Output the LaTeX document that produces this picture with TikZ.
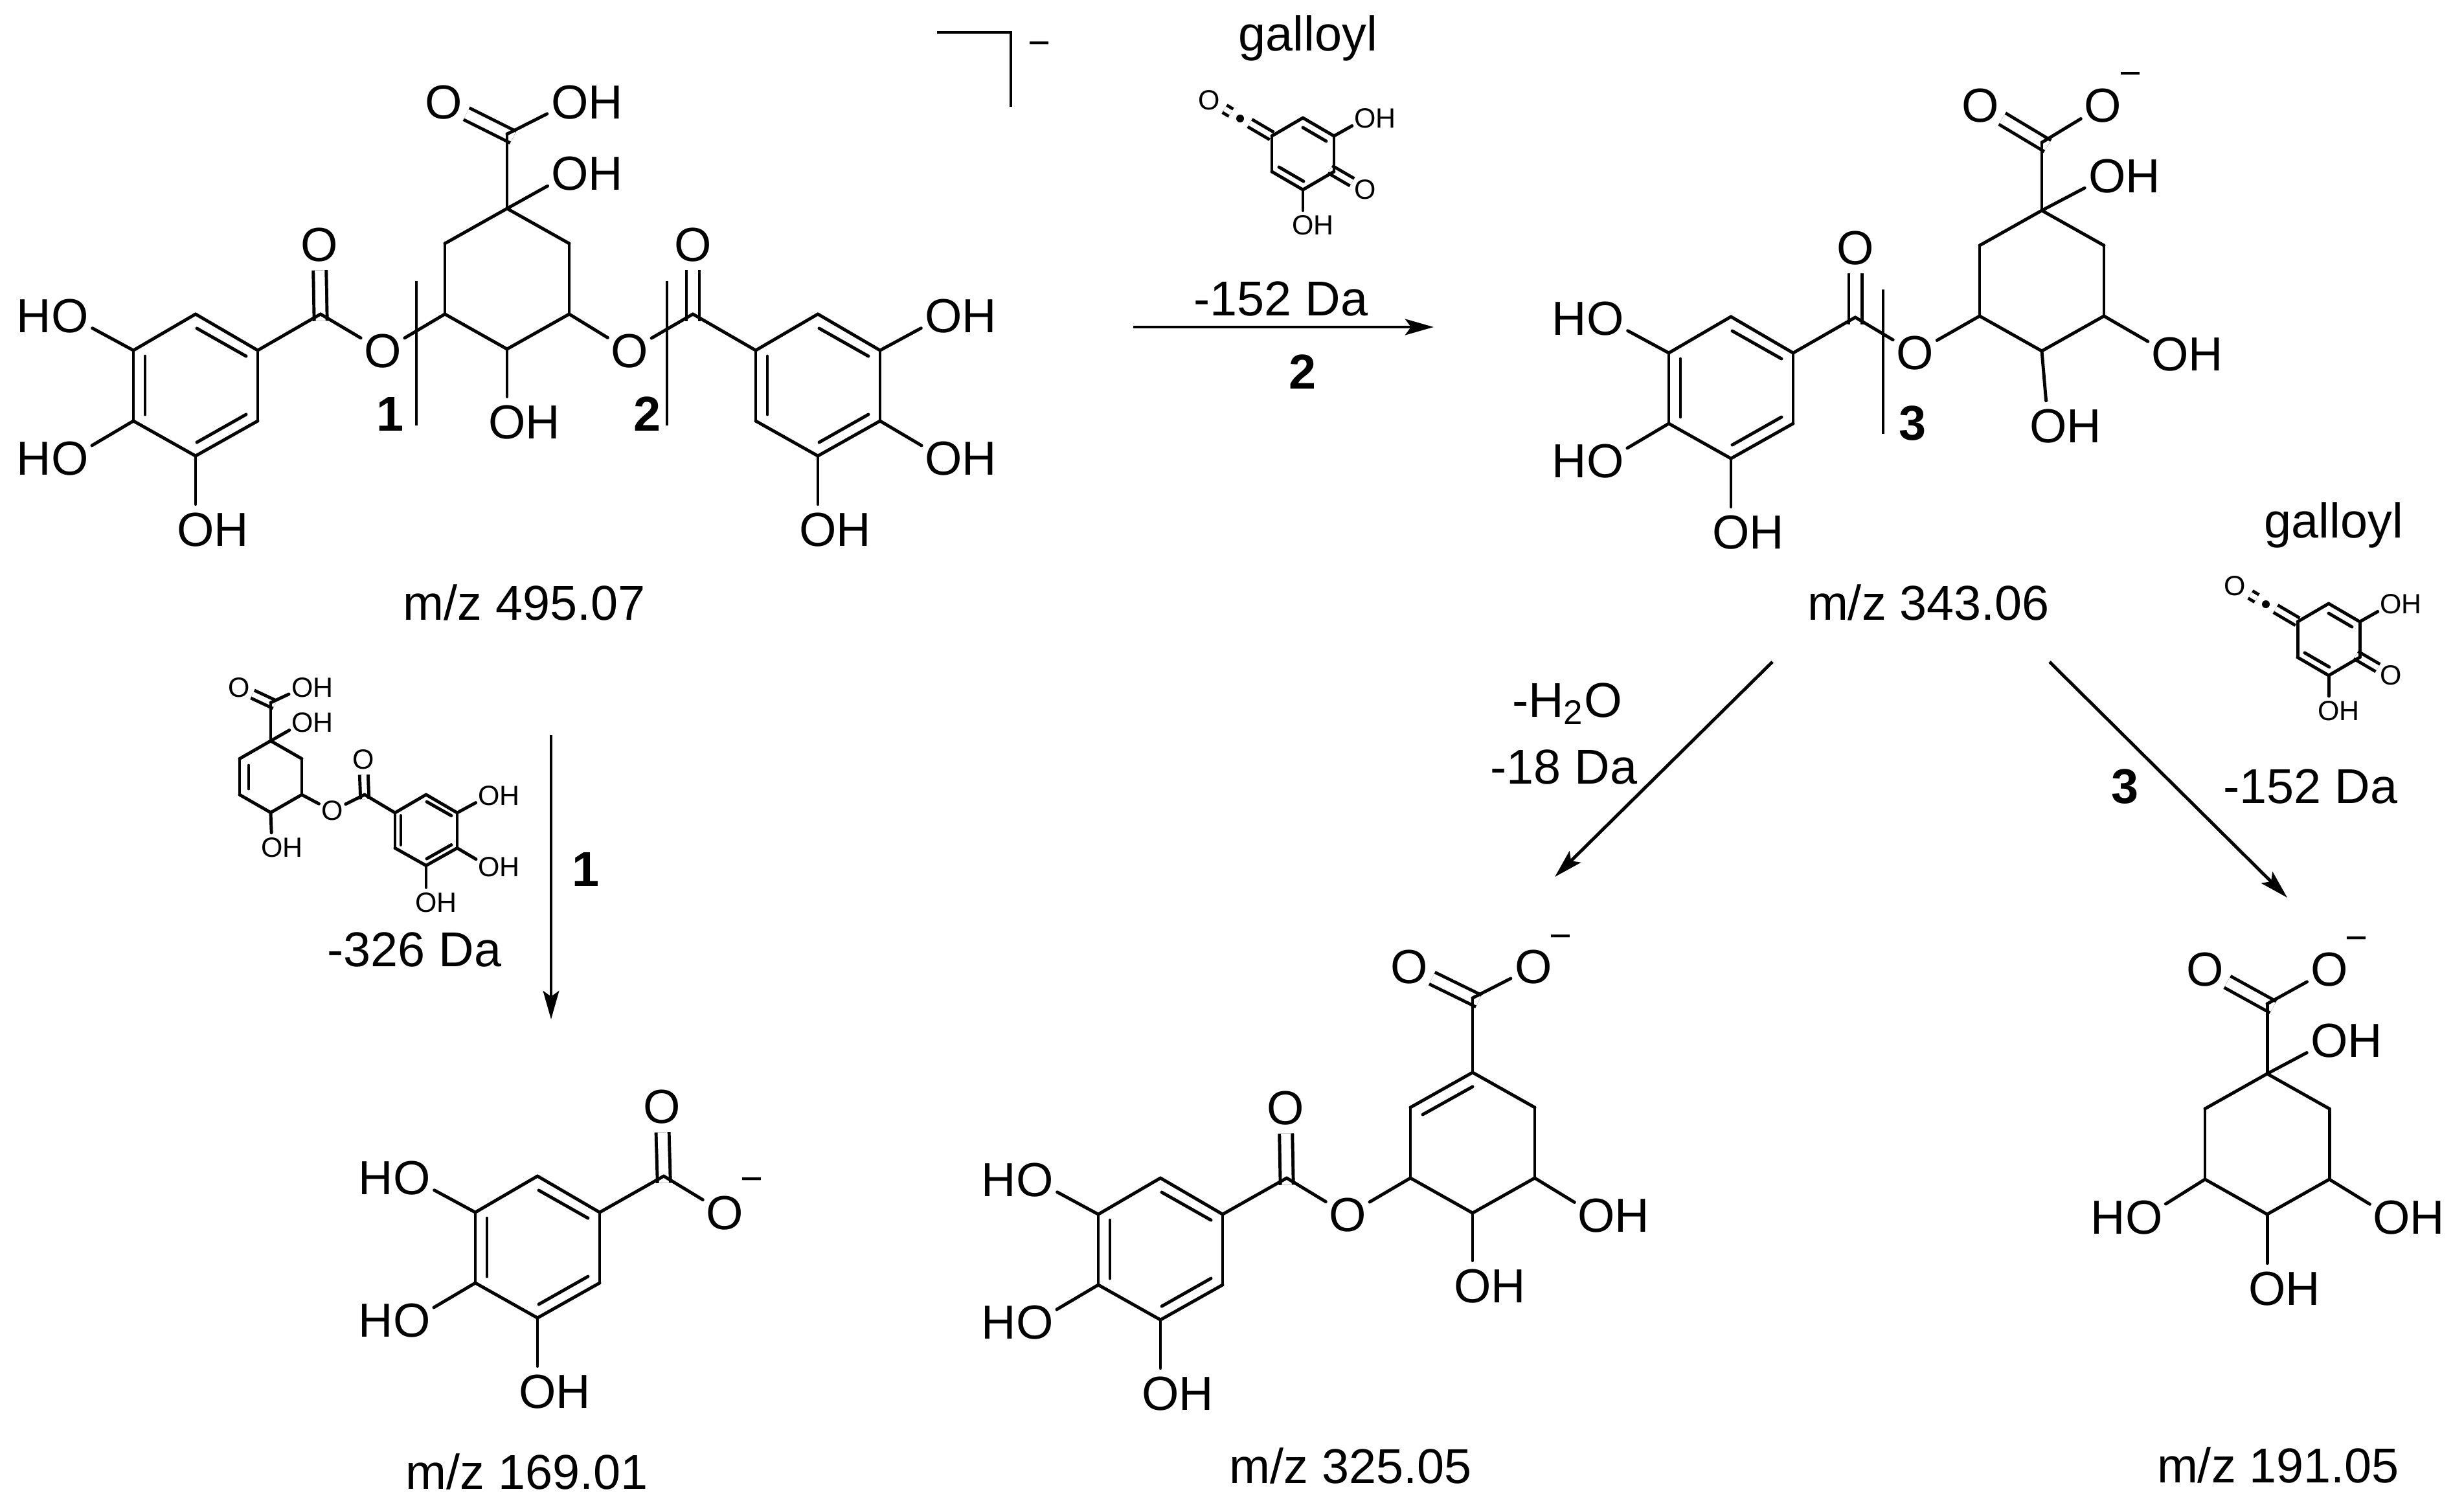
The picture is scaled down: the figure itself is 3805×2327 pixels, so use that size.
\documentclass[tikz,border=0pt]{standalone}
\usepackage{fontspec}
\setmainfont{Liberation Sans}
\usetikzlibrary{arrows.meta}

\newcommand{\bigfont}{\fontsize{21.5}{25}\selectfont}
\newcommand{\atomfont}{\fontsize{21}{25}\selectfont}
\newcommand{\smallfont}{\fontsize{12.2}{14}\selectfont}
\newcommand{\chgfont}{\fontsize{17}{20}\selectfont}
\newcommand{\atomOH}{O\rlap{H}}
\newcommand{\atomHO}{\llap{H}O}

\tikzset{
    bond/.style={line width=1.4pt, line cap=round},
    dbl/.style={line width=1.4pt, double, double distance=4.3pt, shorten <=-3pt},
    dbls/.style={line width=1.4pt, double, double distance=2.3pt, shorten <=-2pt},
    atom/.style={circle, inner sep=0pt, font=\atomfont},
    tiny atom/.style={atom, font=\smallfont},
    lbl/.style={anchor=base, font=\bigfont},
    num/.style={anchor=base, font=\bigfont\bfseries},
    chg/.style={inner sep=0pt, font=\chgfont},
    cut/.style={line width=1.4pt},
    arrow/.style={line width=1.4pt, -{Stealth[length=12.5pt, width=7pt, inset=2.5pt]}},
    pics/hexring/.style={code={
        \coordinate (r1) at (0,0);
        \coordinate (r2) at (96,54);
        \coordinate (r3) at (96,163);
        \coordinate (r4) at (0,217);
        \coordinate (r5) at (-96,163);
        \coordinate (r6) at (-96,54);
        \foreach \a/\b in {r1/r2,r2/r3,r3/r4,r4/r5,r5/r6,r6/r1}
            \draw[bond] (\a) -- (\b);
    }},
    pics/gallate/.style 2 args={code={
        \coordinate (r1) at (0,0);
        \coordinate (r2) at (96,56);
        \coordinate (r3) at (96,165);
        \coordinate (r4) at (0,219);
        \coordinate (r5) at (-96,165);
        \coordinate (r6) at (-96,56);
        \node[atom] (o1) at (-194,3) {#1};
        \node[atom] (o2) at (-194,223) {#1};
        \node[atom] (o3) at (0,333) {\atomOH};
        \foreach \a/\b in {r1/r2,r2/r3,r3/r4,r4/r5,r5/r6,r6/r1,r6/o1,r5/o2,r4/o3}
            \draw[bond] (\a) -- (\b);
        \begin{scope}[xscale=#2]
            \draw[bond] (2,22) -- (78,65);
            \draw[bond] (78,155) -- (2,198);
            \draw[bond] (-78,65) -- (-78,155);
        \end{scope}
    }},
    pics/quinone/.style={code={
        \coordinate (r1) at (0,0);
        \coordinate (r2) at (48,28);
        \coordinate (r3) at (48,83);
        \coordinate (r4) at (0,111);
        \coordinate (r5) at (-48,83);
        \coordinate (r6) at (-48,28);
        \node[tiny atom] (o1) at (96,1) {\atomOH};
        \node[tiny atom] (o2) at (96,111) {O};
        \node[tiny atom] (o3) at (0,166) {\atomOH};
        \node[tiny atom] (o4) at (-145,-27) {O};
        \coordinate (d1) at (-82,8);
        \coordinate (d2) at (-121,-14);
        \coordinate (d3) at (-111,-8);
        \fill (-97,1) circle (6);
        \draw[dbls, shorten <=0pt] (r6) -- (d1);
        \draw[dbls, shorten <=0pt] (d2) -- (d3);
        \draw[dbls] (r3) -- (o2);
        \foreach \a/\b in {r1/r2,r2/r3,r3/r4,r4/r5,r5/r6,r6/r1,r2/o1,r4/o3}
            \draw[bond] (\a) -- (\b);
        \draw[bond] (0,15) -- (36,36);
        \draw[bond] (-37,76) -- (1,98);
    }}
}

\begin{document}
\begin{tikzpicture}[x=0.01cm, y=-0.01cm]
    \useasboundingbox (0,0) rectangle (3805,2327);

    % m/z 495
    \pic (a) at (302,485) {gallate={\atomHO}{1}};
    \pic[xscale=-1] (g) at (1263,485) {gallate={\atomOH}{-1}};
    \pic (aq) at (783,322) {hexring};
    \coordinate (acl) at (495,485);
    \coordinate (acr) at (1070,485);
    \coordinate (ack) at (783,207);
    \node[atom] (aol) at (493,378) {O};
    \node[atom] (ael) at (591,542) {O};
    \node[atom] (aor) at (1070,378) {O};
    \node[atom] (aer) at (972,542) {O};
    \node[atom] (aok) at (685,158) {O};
    \node[atom] (ahk) at (880,158) {\atomOH};
    \node[atom] (ah1) at (880,268) {\atomOH};
    \node[atom] (ah4) at (783,652) {\atomOH};
    \draw[dbl] (acl) -- (aol);
    \draw[dbl] (acr) -- (aor);
    \draw[dbl] (ack) -- (aok);
    \foreach \a/\b in {ar2/acl,acl/ael,ael/aqr5,aqr3/aer,aer/acr,acr/gr2,aqr1/ack,ack/ahk,aqr1/ah1,aqr4/ah4}
        \draw[bond] (\a) -- (\b);
    \coordinate (cut1a) at (643,434);
    \coordinate (cut1b) at (643,657);
    \coordinate (cut2a) at (1030,434);
    \coordinate (cut2b) at (1030,657);
    \draw[cut] (cut1a) -- (cut1b);
    \draw[cut] (cut2a) -- (cut2b);
    \node[num] (n1) at (603,665) {1};
    \node[num] (n2) at (1000,665) {2};
    \coordinate (brk1) at (1447,50);
    \coordinate (brk2) at (1561,50);
    \coordinate (brk3) at (1561,165);
    \draw[cut] (brk1) -- (brk2) -- (brk3);
    \node[chg] (chga) at (1605,75) {−};
    \node[lbl] (mz495) at (810,957) {m/z 495.07};

    % loss of galloyl, step 2
    \node[lbl] (gal1) at (2020,78) {galloyl};
    \pic (q1) at (2012,182) {quinone};
    \node[lbl] (da152a) at (1978,487) {-152 Da};
    \node[num] (n2b) at (2012,600) {2};
    \coordinate (arw2a) at (1750,505);
    \coordinate (arw2b) at (2214,505);
    \draw[arrow] (arw2a) -- (arw2b);

    % m/z 343
    \pic (b) at (2673,489) {gallate={\atomHO}{1}};
    \pic (bq) at (3153,325) {hexring};
    \coordinate (bcl) at (2865,490);
    \coordinate (bck) at (3153,220);
    \node[atom] (bol) at (2865,383) {O};
    \node[atom] (bel) at (2957,545) {O};
    \node[atom] (bok) at (3058,163) {O};
    \node[atom] (bom) at (3247,163) {O};
    \node[atom] (bh1) at (3254,272) {\atomOH};
    \node[atom] (bh3) at (3351,547) {\atomOH};
    \node[atom] (bh4) at (3163,658) {\atomOH};
    \draw[dbl] (bcl) -- (bol);
    \draw[dbl] (bck) -- (bok);
    \foreach \a/\b in {br2/bcl,bcl/bel,bel/bqr5,bqr1/bck,bck/bom,bqr1/bh1,bqr3/bh3,bqr4/bh4}
        \draw[bond] (\a) -- (\b);
    \coordinate (cut3a) at (2908,447);
    \coordinate (cut3b) at (2908,670);
    \draw[cut] (cut3a) -- (cut3b);
    \node[num] (n3) at (2953,679) {3};
    \node[chg] (chgb) at (3290,122) {−};
    \node[lbl] (mz343) at (2978,957) {m/z 343.06};

    % loss of water
    \coordinate (arwwa) at (2737,1022);
    \coordinate (arwwb) at (2401,1354);
    \draw[arrow] (arwwa) -- (arwwb);
    \node[lbl] (lossw) at (2420,1107) {-H\textsubscript{2}O};
    \node[lbl] (da18) at (2415,1210) {-18 Da};

    % loss of galloyl, step 3
    \node[lbl] (gal2) at (3604,830) {galloyl};
    \pic (q2) at (3596,932) {quinone};
    \node[lbl] (da152b) at (3568,1240) {-152 Da};
    \node[num] (n3b) at (3281,1240) {3};
    \coordinate (arw3a) at (3165,1022);
    \coordinate (arw3b) at (3532,1386);
    \draw[arrow] (arw3a) -- (arw3b);

    % loss of 326
    \pic[xscale=.5, yscale=.51] (fq) at (418,1144) {hexring};
    \pic[xscale=-.5, yscale=.5, atom/.append style={font=\smallfont}] (f) at (658,1227) {gallate={\atomOH}{-1}};
    \coordinate (fcl) at (563,1227);
    \coordinate (fck) at (418,1085);
    \node[tiny atom] (fol) at (561,1173) {O};
    \node[tiny atom] (fel) at (513,1252) {O};
    \node[tiny atom] (fok) at (369,1062) {O};
    \node[tiny atom] (fhk) at (467,1062) {\atomOH};
    \node[tiny atom] (fh1) at (467,1116) {\atomOH};
    \node[tiny atom] (fh4) at (420,1309) {\atomOH};
    \draw[dbls] (fcl) -- (fol);
    \draw[dbls] (fck) -- (fok);
    \foreach \a/\b in {fr2/fcl,fcl/fel,fel/fqr3,fqr1/fck,fck/fhk,fqr1/fh1,fqr4/fh4}
        \draw[bond] (\a) -- (\b);
    \draw[bond] (384,1182) -- (384,1218);
    \node[lbl] (da326) at (640,1492) {-326 Da};
    \node[num] (n1b) at (905,1368) {1};
    \coordinate (arw1a) at (851,1135);
    \coordinate (arw1b) at (851,1574);
    \draw[arrow] (arw1a) -- (arw1b);

    % m/z 169
    \pic (d) at (830,1816) {gallate={\atomHO}{1}};
    \coordinate (dcl) at (1025,1816);
    \node[atom] (dol) at (1022,1709) {O};
    \node[atom] (dom) at (1119,1873) {O};
    \draw[dbl] (dcl) -- (dol);
    \draw[bond] (dr2) -- (dcl);
    \draw[bond] (dcl) -- (dom);
    \node[chg] (chgd) at (1161,1829) {−};
    \node[lbl] (mz169) at (814,2299) {m/z 169.01};

    % m/z 325
    \pic (c) at (1792,1819) {gallate={\atomHO}{1}};
    \pic (cq) at (2274,1656) {hexring};
    \coordinate (ccl) at (1987,1819);
    \coordinate (cck) at (2274,1541);
    \node[atom] (col) at (1985,1711) {O};
    \node[atom] (cel) at (2081,1876) {O};
    \node[atom] (cok) at (2176,1493) {O};
    \node[atom] (com) at (2368,1493) {O};
    \node[atom] (ch3) at (2465,1877) {\atomOH};
    \node[atom] (ch4) at (2274,1986) {\atomOH};
    \draw[dbl] (ccl) -- (col);
    \draw[dbl] (cck) -- (cok);
    \foreach \a/\b in {cr2/ccl,ccl/cel,cel/cqr5,cqr1/cck,cck/com,cqr3/ch3,cqr4/ch4}
        \draw[bond] (\a) -- (\b);
    \draw[bond] (2197,1721) -- (2274,1678);
    \node[chg] (chgc) at (2410,1454) {−};
    \node[lbl] (mz325) at (2086,2290) {m/z 325.05};

    % m/z 191
    \pic (e) at (3501,1658) {hexring};
    \coordinate (eck) at (3501,1550);
    \node[atom] (eok) at (3405,1497) {O};
    \node[atom] (eom) at (3597,1497) {O};
    \node[atom] (eh1) at (3597,1607) {\atomOH};
    \node[atom] (eh3) at (3693,1880) {\atomOH};
    \node[atom] (eh4) at (3501,1990) {\atomOH};
    \node[atom] (eh5) at (3311,1880) {\atomHO};
    \draw[dbl] (eck) -- (eok);
    \foreach \a/\b in {er1/eck,eck/eom,er1/eh1,er3/eh3,er4/eh4,er5/eh5}
        \draw[bond] (\a) -- (\b);
    \node[chg] (chge) at (3639,1457) {−};
    \node[lbl] (mz191) at (3518,2289) {m/z 191.05};
\end{tikzpicture}
\end{document}
